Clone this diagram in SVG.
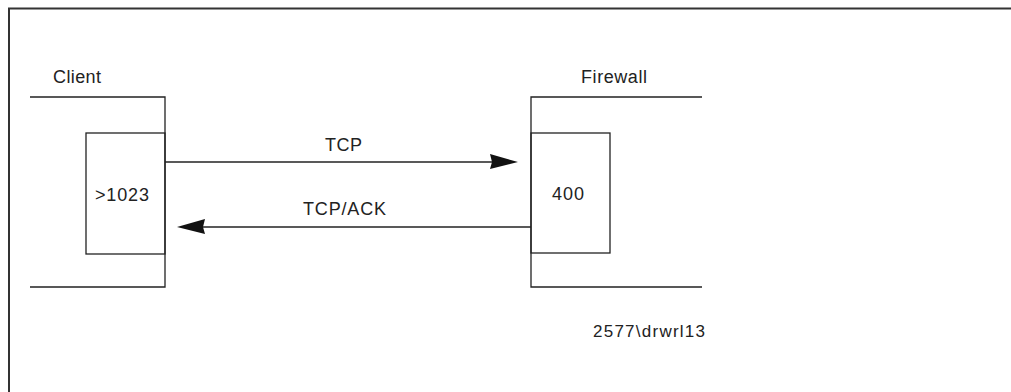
<svg xmlns="http://www.w3.org/2000/svg" width="1011" height="392" viewBox="0 0 1011 392">
<style>
.ln{stroke:#222;stroke-width:1.3;fill:none}
.fr{stroke:#333;stroke-width:2;fill:none}
text{font-family:"Liberation Sans",Arial,sans-serif;font-size:18px;fill:#222}
.ah{fill:#111;stroke:none}
</style>
<rect x="0" y="0" width="1011" height="392" fill="#fff"/>
<g id="frame">
<path class="fr" d="M9,392 V8.5 H1011"/>
</g>
<g id="client">
<path class="ln" d="M30,97 H165 V287 H30"/>
<rect class="ln" x="86" y="133" width="79" height="121"/>
<text x="53" y="83" textLength="48">Client</text>
<text x="95" y="201" textLength="54">&gt;1023</text>
</g>
<g id="firewall">
<path class="ln" d="M702,97 H531 V287 H702"/>
<rect class="ln" x="531" y="133" width="79" height="120"/>
<text x="581" y="83" textLength="66">Firewall</text>
<text x="552" y="200" textLength="32">400</text>
</g>
<g id="connectors">
<line class="ln" x1="165" y1="162" x2="492" y2="162"/>
<polygon class="ah" points="490,154 518,162 490,169 492,162"/>
<text x="325" y="151" textLength="37">TCP</text>
<line class="ln" x1="531" y1="227" x2="203" y2="227"/>
<polygon class="ah" points="205,219 177,227 205,234 203,227"/>
<text x="303" y="215" textLength="83">TCP/ACK</text>
</g>
<g id="caption">
<text x="593" y="337" style="font-size:17px" textLength="112">2577\drwrl13</text>
</g>
</svg>
